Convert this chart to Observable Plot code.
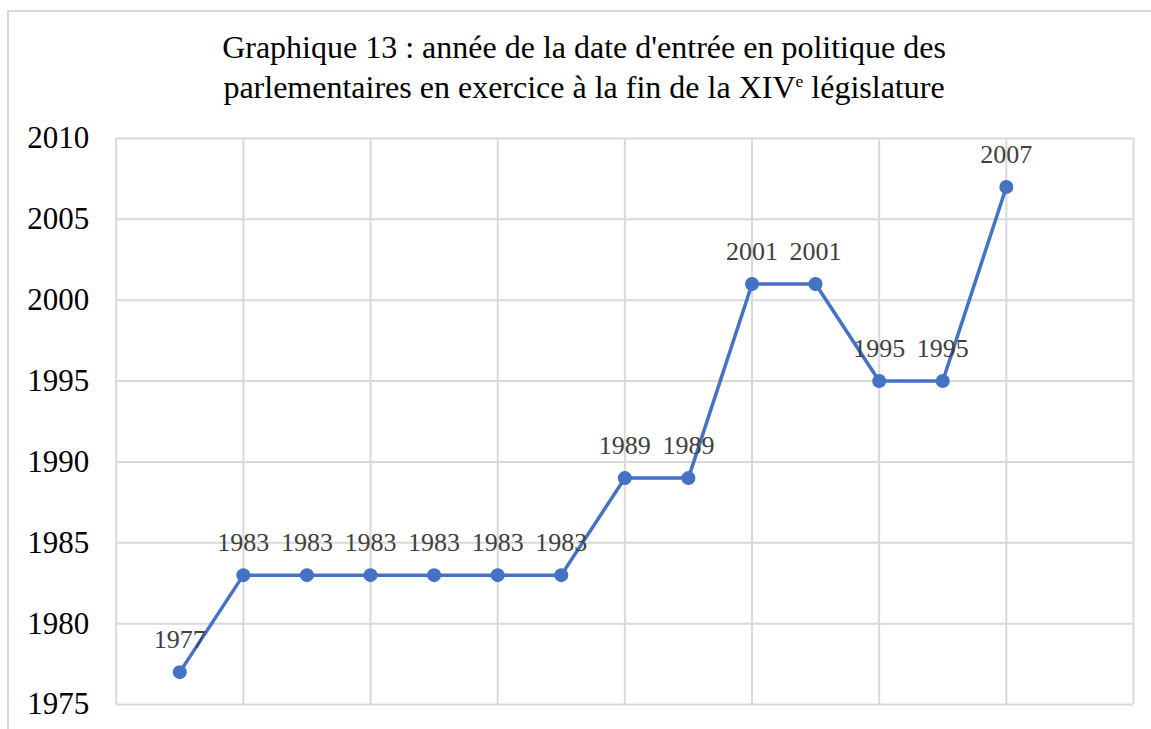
<!DOCTYPE html>
<html>
<head>
<meta charset="utf-8">
<script src="https://cdn.jsdelivr.net/npm/d3@7"></script>
<script src="https://cdn.jsdelivr.net/npm/@observablehq/plot@0.6"></script>
<style>
  html, body { margin: 0; padding: 0; background: #fff; }
  #wrap { position: relative; width: 1151px; height: 729px; overflow: hidden; }
  #frame { position: absolute; left: 7px; top: 10px; width: 1200px; height: 800px; border: 2px solid #d9d9d9; box-sizing: border-box; }
  #title { position: absolute; left: 0; width: 1168px; top: 27px; text-align: center;
           font-family: "Liberation Serif", "Times New Roman", serif; font-size: 32px; line-height: 40px; color: #000; }
  #title sup { font-size: 0.55em; vertical-align: 0; position: relative; top: -0.6em; }
  #chart { position: absolute; left: 0; top: 0; }
</style>
</head>
<body>
<div id="wrap">
  <div id="frame"></div>
  <div id="chart"></div>
  <div id="title">Graphique 13 : année de la date d'entrée en politique des<br>parlementaires en exercice à la fin de la XIV<sup>e</sup> législature</div>
</div>
<script>
const positions = [1, 2, 3, 4, 5, 6, 7, 8, 9, 10, 11, 12, 13, 14];
const years = [1977, 1983, 1983, 1983, 1983, 1983, 1983, 1989, 1989, 2001, 2001, 1995, 1995, 2007];
const yTicks = [1975, 1980, 1985, 1990, 1995, 2000, 2005, 2010];
const xGrid = [0, 2, 4, 6, 8, 10, 12, 14, 16];

const data = positions.map((p, i) => ({ x: p, y: years[i] }));

const chart = Plot.plot({
  width: 1151,
  height: 729,
  marginLeft: 115.7,
  marginRight: 18,
  marginTop: 138,
  marginBottom: 25,
  style: { background: "transparent", fontFamily: "'Liberation Serif', 'Times New Roman', serif" },
  x: { type: "linear", domain: [0, 16], axis: null },
  y: { domain: [1975, 2010], axis: null },
  marks: [
    Plot.ruleY(yTicks, { stroke: "#d9d9d9", strokeWidth: 2, strokeOpacity: 1 }),
    Plot.ruleX(xGrid, { stroke: "#d9d9d9", strokeWidth: 2, strokeOpacity: 1 }),
    Plot.axisY({ ticks: yTicks, tickSize: 0, tickPadding: 27, tickFormat: d => String(d), label: null, fontSize: 31, fill: "#000" }),
    Plot.line(data, { x: "x", y: "y", stroke: "#4472c4", strokeWidth: 3.5 }),
    Plot.dot(data, { x: "x", y: "y", r: 7, fill: "#4472c4", stroke: "none" }),
    Plot.text(data, { x: "x", y: "y", text: d => String(d.y), dy: -32, fill: "#404040", fontSize: 26 })
  ]
});
document.getElementById("chart").appendChild(chart);
</script>
</body>
</html>
